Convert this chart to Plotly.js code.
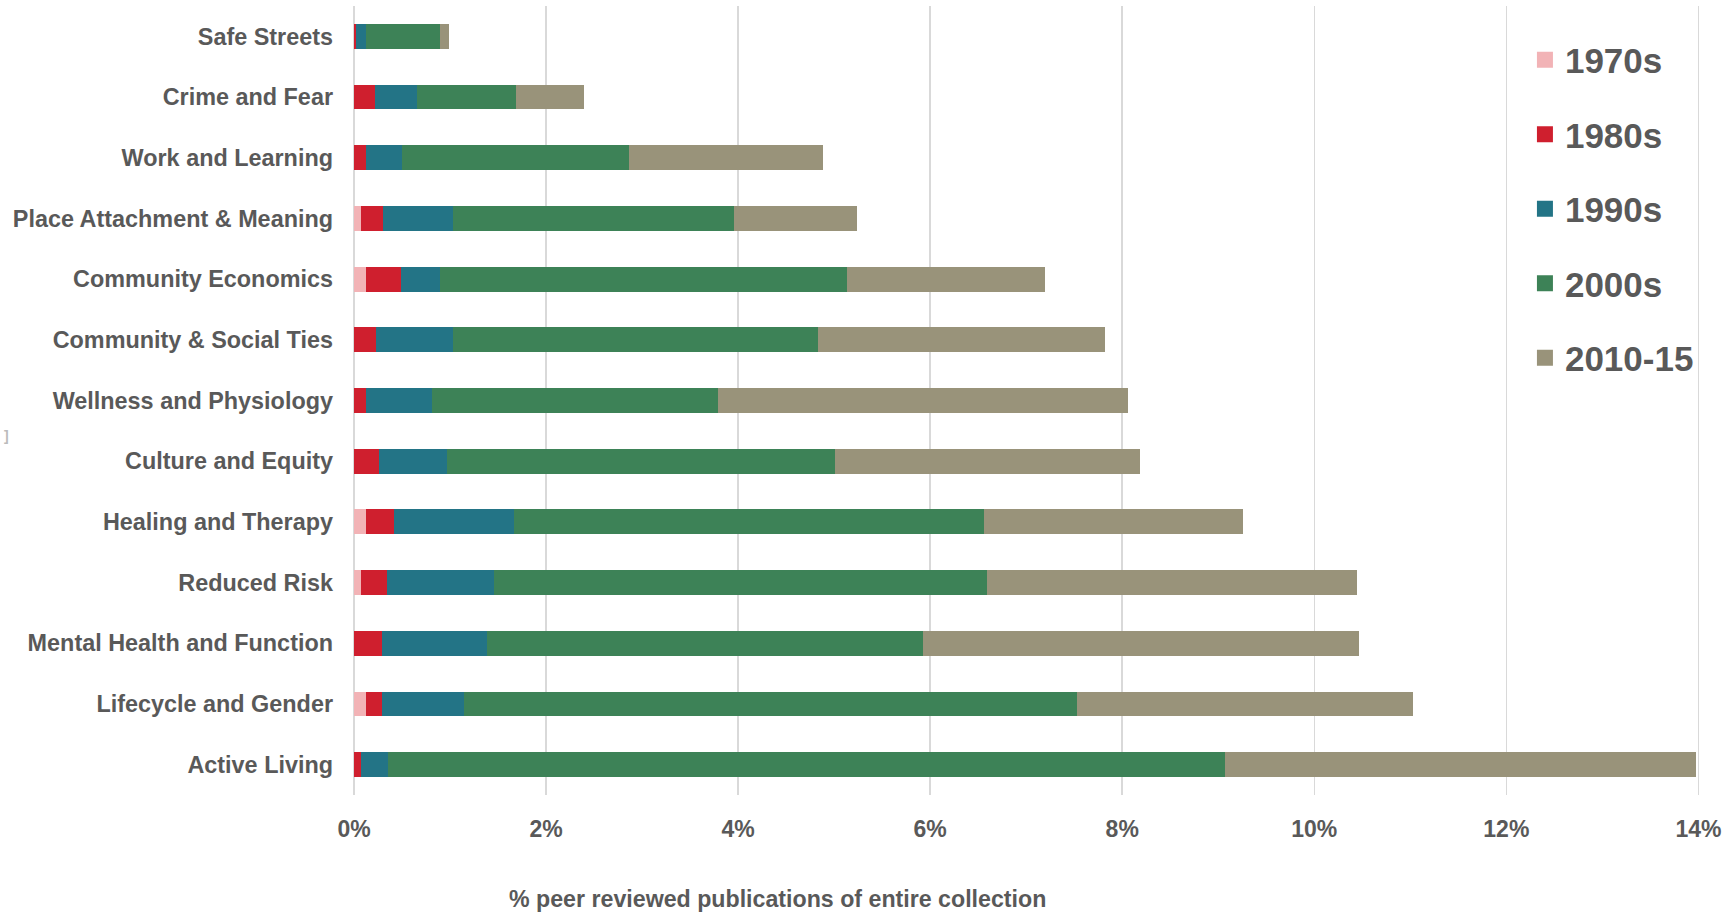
<!DOCTYPE html>
<html>
<head>
<meta charset="utf-8">
<script src="https://cdn.plot.ly/plotly-3.0.1.min.js"></script>
<style>
  html, body { margin: 0; padding: 0; background: #ffffff; }
  #chart { width: 1722px; height: 913px; }
</style>
</head>
<body>
<div id="chart"></div>
<script>
// Categories, top to bottom
var categories = [
  "Safe Streets",
  "Crime and Fear",
  "Work and Learning",
  "Place Attachment & Meaning",
  "Community Economics",
  "Community & Social Ties",
  "Wellness and Physiology",
  "Culture and Equity",
  "Healing and Therapy",
  "Reduced Risk",
  "Mental Health and Function",
  "Lifecycle and Gender",
  "Active Living"
];

// % of peer reviewed publications, per decade
var s1970s  = [0,    0,    0,    0.07, 0.13, 0,    0,    0,    0.13, 0.07, 0,    0.13, 0];
var s1980s  = [0.02, 0.22, 0.13, 0.23, 0.36, 0.23, 0.13, 0.26, 0.29, 0.27, 0.29, 0.16, 0.07];
var s1990s  = [0.11, 0.44, 0.37, 0.73, 0.41, 0.80, 0.68, 0.71, 1.25, 1.12, 1.09, 0.86, 0.28];
var s2000s  = [0.77, 1.03, 2.36, 2.93, 4.23, 3.80, 2.98, 4.04, 4.89, 5.13, 4.55, 6.38, 8.72];
var s2010s  = [0.09, 0.71, 2.02, 1.28, 2.07, 2.99, 4.27, 3.18, 2.70, 3.85, 4.54, 3.50, 4.91];

var seriesNames = ["1970s", "1980s", "1990s", "2000s", "2010-15"];
var seriesValues = [s1970s, s1980s, s1990s, s2000s, s2010s];
var seriesColors = ["#F2B3B6", "#CF1F2E", "#237486", "#3D8257", "#99937A"];

var tickVals = [0, 2, 4, 6, 8, 10, 12, 14];
var tickText = ["0%", "2%", "4%", "6%", "8%", "10%", "12%", "14%"];

var xTitle = "% peer reviewed publications of entire collection";

var FONT = "'Liberation Sans', Arial, Helvetica, sans-serif";
var TEXT = "#595959";

var barTraces = seriesNames.map(function (name, i) {
  return {
    type: "bar",
    orientation: "h",
    name: name,
    legendgroup: name,
    showlegend: false,
    y: categories,
    x: seriesValues[i],
    marker: { color: seriesColors[i], line: { width: 0 } },
    hoverinfo: "name+x"
  };
});

// legend entries (bigger square swatches)
var legendTraces = seriesNames.map(function (name, i) {
  return {
    type: "scatter",
    mode: "markers",
    name: name,
    legendgroup: name,
    showlegend: true,
    x: [null],
    y: [null],
    marker: { symbol: "square", size: 16, color: seriesColors[i], line: { width: 0 } },
    hoverinfo: "skip"
  };
});

var layout = {
  width: 1722,
  height: 913,
  margin: { l: 354, r: 14, t: 6, b: 118, pad: 0 },
  paper_bgcolor: "#ffffff",
  plot_bgcolor: "#ffffff",
  barmode: "stack",
  bargap: 0.59,
  font: { family: FONT, size: 23, color: TEXT, weight: "bold" },
  xaxis: {
    range: [0, 14.1],
    tickvals: tickVals,
    ticktext: tickText,
    showgrid: true,
    gridcolor: "#d9d9d9",
    gridwidth: 1.5,
    zeroline: true,
    zerolinecolor: "#d9d9d9",
    zerolinewidth: 1.5,
    showline: false,
    ticks: "",
    ticklabelstandoff: 18,
    tickfont: { family: FONT, size: 23, color: TEXT, weight: "bold" },
    fixedrange: true
  },
  yaxis: {
    type: "category",
    categoryorder: "array",
    categoryarray: categories,
    autorange: "reversed",
    showgrid: false,
    zeroline: false,
    showline: false,
    ticks: "",
    ticklabelstandoff: 20,
    tickfont: { family: FONT, size: 23.4, color: TEXT, weight: "bold" },
    fixedrange: true
  },
  legend: {
    x: 0.8648,
    xanchor: "left",
    y: 0.969,
    yanchor: "top",
    traceorder: "grouped",
    tracegroupgap: 26,
    itemwidth: 30,
    font: { family: FONT, size: 35, color: TEXT, weight: "bold" },
    bgcolor: "rgba(255,255,255,0)",
    borderwidth: 0
  },
  annotations: [
    {
      text: xTitle,
      xref: "paper", yref: "paper",
      x: 0.3125, y: -0.132,
      xanchor: "center", yanchor: "middle",
      showarrow: false,
      font: { family: FONT, size: 23.2, color: TEXT, weight: "bold" }
    },
    {
      text: "]",
      xref: "paper", yref: "paper",
      x: -0.2565, y: 0.455,
      xanchor: "center", yanchor: "middle",
      showarrow: false,
      font: { family: FONT, size: 14, color: "#bbbbbb" }
    }
  ],
  showlegend: true
};

Plotly.newPlot("chart", barTraces.concat(legendTraces), layout, { displayModeBar: false, staticPlot: true });
</script>
</body>
</html>
